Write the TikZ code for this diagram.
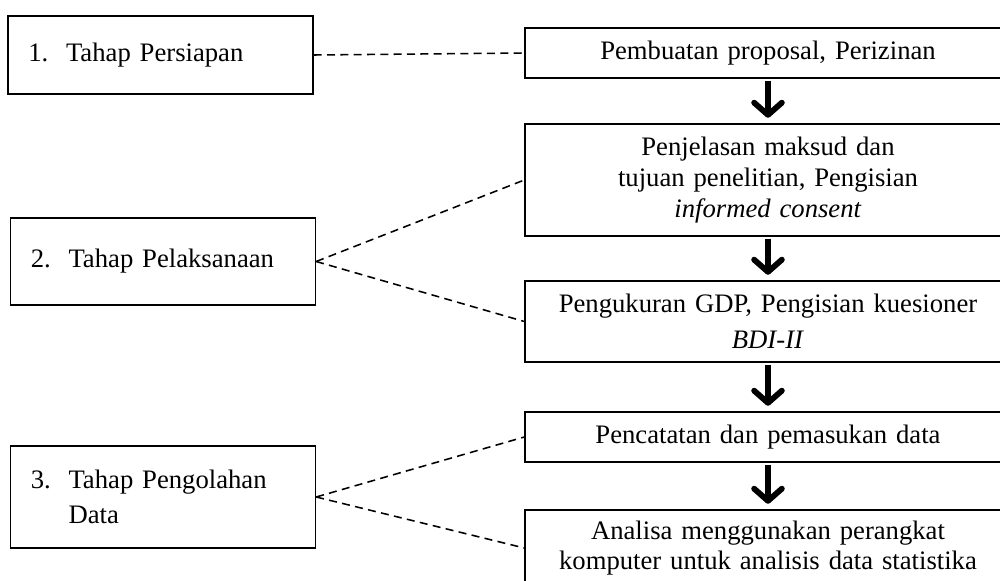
\documentclass[tikz,border=0pt]{standalone}
\usepackage{fontspec}
\setmainfont{Liberation Serif}
\usepackage{tikz}
\usetikzlibrary{arrows.meta,positioning}

\begin{document}
\begin{tikzpicture}[
  x=0.45pt, y=-0.45pt,
  every node/.style={font=\fontsize{12}{13.8}\selectfont},
  stage/.style={draw,line width=0.6pt,minimum width=137.25pt,text width=119pt,
                inner xsep=9pt,align=left},
  task/.style={draw,line width=0.6pt,minimum width=218.7pt,text width=205pt,
               align=center},
  link/.style={dashed,line width=0.7pt,dash pattern=on 3.6pt off 2.4pt},
  flow/.style={line width=2.4pt,
               -{Straight Barb[length=5.5pt,width=12.5pt,line width=2.6pt,round]},
               shorten <=1pt,shorten >=2.5pt},
]
\useasboundingbox (0,0) rectangle (1000,581);
\clip (0,0) rectangle (1000,581);

%% Stages (left column)
\node[stage,minimum height=35.1pt] (persiapan) at (160.5,55)
  {\makebox[17pt][l]{1.}Tahap Persiapan};
\node[stage,minimum height=39.15pt] (pelaksanaan) at (163,261.5)
  {\makebox[17pt][l]{2.}Tahap Pelaksanaan};
\node[stage,minimum height=45.9pt] (pengolahan) at (163,497)
  {\makebox[17pt][l]{3.}Tahap Pengolahan\\[2pt]\hspace*{17pt}Data};

%% Activities (right column)
\node[task,minimum height=22.5pt] (proposal) at (768,53)
  {Pembuatan proposal, Perizinan};
\node[task,minimum height=50.4pt] (penjelasan) at (768,180)
  {Penjelasan maksud dan\\tujuan penelitian, Pengisian\\\textit{informed consent}};
\node[task,minimum height=36.45pt] (pengukuran) at (768,321.5)
  {Pengukuran GDP, Pengisian kuesioner\\[2.2pt]\textit{BDI-II}};
\node[task,minimum height=22.5pt] (pencatatan) at (768,437)
  {Pencatatan dan pemasukan data};
\node[task,minimum height=34.2pt] (analisa) at (768,548)
  {Analisa menggunakan perangkat\\komputer untuk analisis data statistika};

%% Stage -- activity links
\draw[link] (persiapan.east) -- (proposal.west);
\draw[link] (pelaksanaan.east) -- (penjelasan.west);
\draw[link] (pelaksanaan.east) -- (pengukuran.west);
\draw[link] (pengolahan.east) -- (pencatatan.west);
\draw[link] (pengolahan.east) -- (analisa.west);

%% Flow arrows
\draw[flow] (proposal) -- (penjelasan);
\draw[flow] (penjelasan) -- (pengukuran);
\draw[flow] (pengukuran) -- (pencatatan);
\draw[flow] (pencatatan) -- (analisa);

\end{tikzpicture}
\end{document}
